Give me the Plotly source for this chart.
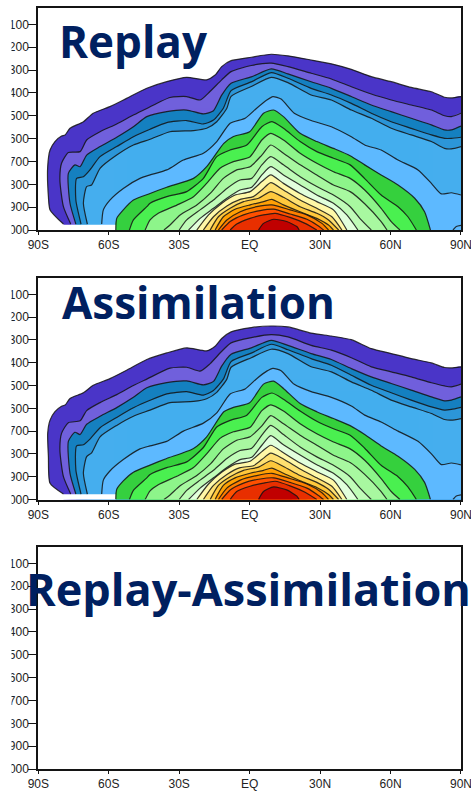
import plotly.graph_objects as go

# Latitudes of the contours' northern part, shared by the five outermost contours
NORTH_LAT = [-7.9, 0.7, 9.2, 16.3, 26.2, 34.8, 43.3, 51.8, 60.3, 68.8, 77.4, 83, 85.9, 90]

C1_LAT = [-79.3, -85, -85.7, -86, -85, -82.9, -80.1, -78.6, -76.5, -70.8, -66.6, -59.5, -52.4, -43.8, -35.3, -26.8, -18.3, -14.7, -11.9] + NORTH_LAT
C2_LAT = [-76.2, -79.3, -80.8, -80.1, -77.2, -72.2, -69.4, -63.7, -56.6, -49.5, -43.8, -33.9, -26.8, -21.1, -16.9, -11.9] + NORTH_LAT
C3_LAT = [-74, -76.5, -77.2, -74.4, -72.2, -69.4, -63.7, -56.6, -49.5, -43.8, -35.3, -26.8, -19.7, -15.4, -11.9] + NORTH_LAT
C4_LAT = [-71.8, -74, -73.7, -70.8, -68, -63.7, -56.6, -49.5, -42.4, -35.3, -26.8, -19.7, -15.4, -11.2] + NORTH_LAT
C5_LAT = [-69.1, -70.8, -69.4, -67.3, -63.7, -56.6, -49.5, -42.4, -33.9, -23.9, -18.3, -14, -9.7] + NORTH_LAT
C6_LAT = [-63, -62.3, -59.5, -53.8, -46.7, -42.4, -35.3, -28.2, -19.7, -14, -8.3, -1.9, 3, 7.3, 9.9, 13.4, 19, 26.2, 34.8, 43.3, 49, 56, 63.2, 71.7, 77.4, 81.6, 85.9, 90]
C7_LAT = [-57, -56.6, -53.8, -49.5, -42.4, -35.3, -23.9, -18.3, -11, -6.9, 0, 5.9, 10.2, 14.4, 21.5, 28.6, 35.7, 42.8, 49, 56, 63.2, 70.3, 74.5, 77]
C8_LAT = [-51.2, -49.5, -43.8, -42.4, -35.3, -26.8, -19.7, -14, -8.3, -1.2, 5.2, 9.5, 14.4, 21.5, 28.6, 35.7, 42.8, 49, 56, 63.2, 67.4, 71]
C9_LAT = [-44.5, -42.4, -38.9, -31, -23.9, -18.3, -12.6, -6.9, 0.2, 5.2, 9, 14.4, 21.5, 28.6, 35.7, 42.8, 49, 56, 60.3, 64]
C10_LAT = [-36.5, -33.9, -29.6, -22.5, -16.8, -11.2, -5.5, 0.2, 5.2, 9, 14.4, 21.5, 28.6, 35.7, 42.8, 49, 56, 58.5]
C11_LAT = [-30, -26.8, -21.1, -15.4, -9.7, -4.1, 0.9, 5.2, 9, 14.4, 21.5, 28.6, 35.7, 42.8, 47, 51.8]
C12_LAT = [-26, -21.1, -15.4, -9.7, -4.1, 0.9, 5.2, 9, 14.4, 21.5, 28.6, 35.7, 41.4, 46.1]
C13_LAT = [-22.5, -17.5, -11.8, -6.2, 0.2, 5.2, 9, 14.4, 21.5, 28.6, 35.7, 41.4]
C14_LAT = [-19.7, -15.4, -9.7, -4, 1.6, 5.2, 9, 14.4, 21.5, 28.6, 35, 39.3]
C15_LAT = [-16.8, -13.3, -8.3, -2.6, 3.8, 9, 14.4, 21.5, 28.6, 33.6, 37.9]
C16_LAT = [-14.7, -11.2, -6.2, 0.2, 5.9, 9.4, 14.4, 21.5, 28.6, 33.6, 35.7]
C17_LAT = [-13.3, -9.7, -4, 3, 9.4, 17.2, 24.4, 30.8, 33.6]
C18_LAT = [-11.9, -8.3, -2.6, 4.5, 10.2, 17.2, 24.4, 29.3, 31.5]
C19_LAT = [-8.3, -5.5, 0.2, 5.9, 10.9, 17.2, 23.6, 28.6]
C20_LAT = [3.8, 5.9, 10.2, 15.8, 20.1, 21.1]

# Replay: pressure (hPa) of each contour
R_C1 = [974, 912, 854, 723, 650, 613, 589, 584, 555, 526, 489, 460, 424, 380, 351, 332, 343, 322, 285, 259, 244, 231, 238, 256, 273, 297, 329, 351, 376, 395, 419, 422, 416]
R_C2 = [974, 898, 781, 708, 661, 657, 606, 570, 536, 497, 468, 420, 416, 431, 394, 343, 307, 280, 270, 285, 314, 339, 373, 405, 431, 453, 475, 500, 504, 489]
R_C3 = [974, 883, 752, 715, 723, 672, 635, 594, 548, 504, 482, 475, 492, 478, 410, 358, 330, 295, 317, 351, 380, 416, 453, 482, 511, 540, 562, 562, 545]
R_C4 = [974, 869, 774, 767, 737, 679, 635, 592, 559, 530, 521, 536, 519, 467, 390, 352, 311, 336, 380, 409, 446, 489, 526, 555, 584, 599, 599, 594]
R_C5 = [974, 883, 810, 803, 730, 672, 628, 603, 570, 565, 555, 526, 467, 415, 372, 332, 355, 409, 431, 475, 511, 555, 584, 613, 643, 645, 635]
R_C6 = [974, 912, 869, 818, 774, 759, 737, 694, 664, 613, 533, 511, 467, 431, 416, 427, 489, 521, 548, 592, 628, 650, 694, 737, 796, 842, 837, 847]
R_C7 = [1000, 949, 912, 869, 840, 813, 774, 723, 621, 591, 570, 489, 475, 504, 577, 613, 643, 675, 715, 759, 803, 861, 920, 1000]
R_C8 = [1000, 956, 898, 883, 854, 832, 774, 679, 650, 628, 548, 526, 555, 613, 657, 686, 715, 775, 847, 898, 942, 1000]
R_C9 = [1000, 956, 927, 891, 854, 796, 730, 701, 679, 606, 577, 606, 664, 708, 745, 774, 825, 905, 963, 1000]
R_C10 = [1000, 978, 934, 891, 840, 774, 737, 723, 672, 628, 664, 715, 759, 803, 832, 885, 963, 1000]
R_C11 = [1000, 956, 912, 869, 818, 781, 774, 715, 679, 715, 767, 810, 847, 898, 950, 1000]
R_C12 = [1000, 949, 905, 861, 825, 813, 759, 723, 759, 803, 847, 883, 934, 1000]
R_C13 = [1000, 934, 883, 847, 832, 788, 759, 796, 840, 876, 912, 1000]
R_C14 = [1000, 942, 895, 866, 854, 825, 793, 825, 869, 905, 942, 1000]
R_C15 = [1000, 942, 905, 876, 861, 832, 857, 898, 927, 956, 1000]
R_C16 = [1000, 942, 909, 890, 876, 866, 890, 920, 949, 978, 1000]
R_C17 = [1000, 956, 920, 898, 890, 912, 934, 971, 1000]
R_C18 = [1000, 963, 934, 915, 909, 930, 953, 982, 1000]
R_C19 = [1000, 974, 949, 934, 927, 945, 971, 1000]
R_C20 = [1000, 971, 953, 963, 985, 1000]

# Assimilation: pressure (hPa) of each contour
A_C1 = [976, 929, 812, 710, 652, 615, 591, 586, 557, 532, 499, 470, 433, 386, 357, 335, 348, 328, 294, 265, 246, 239, 243, 270, 283, 299, 338, 360, 382, 401, 421, 423, 418]
A_C2 = [976, 900, 783, 710, 663, 655, 610, 575, 540, 500, 472, 424, 420, 437, 405, 350, 313, 290, 277, 287, 324, 345, 378, 418, 440, 462, 488, 502, 506, 494]
A_C3 = [976, 885, 745, 705, 715, 670, 635, 597, 552, 510, 487, 480, 497, 482, 415, 363, 335, 302, 324, 360, 386, 426, 462, 491, 520, 550, 567, 564, 550]
A_C4 = [976, 870, 765, 760, 735, 685, 640, 598, 565, 537, 527, 542, 522, 472, 395, 358, 319, 343, 382, 411, 455, 499, 532, 564, 594, 608, 605, 596]
A_C5 = [976, 885, 812, 795, 725, 675, 635, 608, 575, 570, 558, 530, 472, 420, 378, 341, 360, 418, 440, 484, 521, 564, 594, 623, 649, 652, 645]
A_C6 = [976, 915, 875, 825, 778, 765, 745, 700, 665, 620, 537, 515, 470, 437, 425, 435, 495, 527, 552, 590, 630, 660, 700, 745, 800, 847, 840, 848]
A_C7 = [1000, 955, 918, 880, 849, 820, 776, 725, 615, 596, 576, 494, 481, 513, 579, 615, 645, 676, 715, 765, 810, 868, 925, 1000]
A_C8 = [1000, 960, 905, 890, 860, 835, 772, 682, 653, 630, 552, 533, 560, 612, 657, 690, 718, 775, 850, 900, 945, 1000]
A_C9 = [1000, 962, 935, 898, 860, 800, 732, 703, 683, 610, 585, 612, 668, 712, 748, 778, 828, 908, 965, 1000]
A_C10 = [1000, 980, 940, 895, 845, 778, 740, 725, 677, 632, 668, 718, 762, 806, 838, 890, 965, 1000]
A_C11 = [1000, 960, 915, 872, 820, 785, 775, 718, 675, 715, 770, 813, 850, 900, 950, 1000]
A_C12 = [1000, 950, 905, 860, 825, 815, 762, 720, 760, 805, 848, 885, 935, 1000]
A_C13 = [1000, 932, 880, 845, 832, 790, 762, 795, 840, 878, 915, 1000]
A_C14 = [1000, 938, 890, 860, 852, 825, 797, 822, 866, 905, 942, 1000]
A_C15 = [1000, 938, 900, 872, 858, 830, 855, 895, 925, 955, 1000]
A_C16 = [1000, 938, 905, 885, 872, 862, 885, 918, 947, 978, 1000]
A_C17 = [1000, 950, 915, 895, 885, 908, 932, 970, 1000]
A_C18 = [1000, 958, 928, 910, 905, 925, 950, 982, 1000]
A_C19 = [1000, 965, 942, 928, 920, 940, 968, 1000]
A_C20 = [1000, 965, 945, 958, 985, 1000]

BAND_COLORS = ["#4A35C8", "#7060DC", "#1580C0", "#2C96D8", "#45AEEE", "#5DB9FF", "#35D040", "#4CF050",
               "#8FF58A", "#A8F8A0", "#C0FCB8", "#E2FFDC", "#FFF8A8", "#FFE070", "#FFC840", "#FFA010",
               "#FF7F00", "#FF5000", "#E83000", "#C00000"]

ALL_LATS = [C1_LAT, C2_LAT, C3_LAT, C4_LAT, C5_LAT, C6_LAT, C7_LAT, C8_LAT, C9_LAT, C10_LAT,
            C11_LAT, C12_LAT, C13_LAT, C14_LAT, C15_LAT, C16_LAT, C17_LAT, C18_LAT, C19_LAT, C20_LAT]
REPLAY = [R_C1, R_C2, R_C3, R_C4, R_C5, R_C6, R_C7, R_C8, R_C9, R_C10,
          R_C11, R_C12, R_C13, R_C14, R_C15, R_C16, R_C17, R_C18, R_C19, R_C20]
ASSIM = [A_C1, A_C2, A_C3, A_C4, A_C5, A_C6, A_C7, A_C8, A_C9, A_C10,
         A_C11, A_C12, A_C13, A_C14, A_C15, A_C16, A_C17, A_C18, A_C19, A_C20]

# Data-free strip along the ground in the far south
GROUND_LAT = [-87, -57, -57, -87]
GROUND_P = [977, 977, 1002, 1002]
# Small closed contour touching the ground at the North Pole
POLE_LAT = [86.6, 88, 90]
POLE_P = [1000, 985, 980]

PANEL_NAMES = ["Replay", "Assimilation", "Replay-Assimilation"]
LAT_TICKS = [-90, -60, -30, 0, 30, 60, 90]
LAT_LABELS = ["90S", "60S", "30S", "EQ", "30N", "60N", "90N"]
P_TICKS = [100, 200, 300, 400, 500, 600, 700, 800, 900, 1000]
P_LABELS = ["100", "200", "300", "400", "500", "600", "700", "800", "900", "1000"]

W, H = 471, 793
LINE = "#141414"
TEXT = "#222222"
NAVY = "#002060"
CURVE = dict(shape="spline", smoothing=0.6)

fig = go.Figure()


def add_panel(contours, ax):
    for lat, p, color in zip(ALL_LATS, contours, BAND_COLORS):
        fig.add_trace(go.Scatter(x=lat + [lat[-1], lat[0]], y=p + [1000, 1000], mode="lines", fill="toself",
                                 fillcolor=color, line=dict(width=0, **CURVE), xaxis="x" + ax, yaxis="y" + ax,
                                 hoverinfo="skip", showlegend=False))
    fig.add_trace(go.Scatter(x=GROUND_LAT, y=GROUND_P, mode="lines", fill="toself", fillcolor="white",
                             line=dict(width=0), xaxis="x" + ax, yaxis="y" + ax,
                             hoverinfo="skip", showlegend=False))
    for lat, p in zip(ALL_LATS, contours):
        fig.add_trace(go.Scatter(x=lat, y=p, mode="lines", line=dict(color=LINE, width=1.2, **CURVE),
                                 opacity=0.85, xaxis="x" + ax, yaxis="y" + ax,
                                 hoverinfo="skip", showlegend=False))
    fig.add_trace(go.Scatter(x=POLE_LAT, y=POLE_P, mode="lines", line=dict(color=LINE, width=1.2, **CURVE),
                             opacity=0.85, xaxis="x" + ax, yaxis="y" + ax,
                             hoverinfo="skip", showlegend=False))


add_panel(REPLAY, "")
add_panel(ASSIM, "2")
fig.add_trace(go.Scatter(x=[], y=[], xaxis="x3", yaxis="y3", hoverinfo="skip", showlegend=False))

PANEL_TOP = [8, 278, 547]
PANEL_BOTTOM = [230, 499.5, 769]
TITLE_LAT = [-82, -80.7, -0.5]
TITLE_P = [313, 276, 352]
TITLE_ANCHOR = ["left", "left", "center"]
TITLE_SIZE = [44, 44, 45]

layout = dict(width=W, height=H, margin=dict(l=0, r=0, t=0, b=0, autoexpand=False), paper_bgcolor="white",
              plot_bgcolor="white", showlegend=False, font=dict(family="Liberation Sans", size=12, color=TEXT))
annotations = []
for i, (top, bottom) in enumerate(zip(PANEL_TOP, PANEL_BOTTOM)):
    suffix = "" if i == 0 else str(i + 1)
    layout["xaxis" + suffix] = dict(domain=[38.3 / W, 461 / W], range=[-90, 90.01], anchor="y" + suffix,
                                    tickvals=LAT_TICKS, ticktext=LAT_LABELS, ticks="outside", ticklen=3,
                                    tickwidth=1, tickcolor=LINE, showgrid=False, zeroline=False,
                                    showline=True, linecolor=LINE, linewidth=2, mirror=True,
                                    ticklabeloverflow="allow", tickangle=0, tickfont=dict(size=12, color=TEXT))
    layout["yaxis" + suffix] = dict(domain=[1 - bottom / H, 1 - top / H], range=[1000, 28.5], anchor="x" + suffix,
                                    tickvals=P_TICKS, ticktext=P_LABELS, ticks="outside", ticklen=8,
                                    tickwidth=1, tickcolor=LINE, showgrid=False, zeroline=False,
                                    showline=True, linecolor=LINE, linewidth=2, mirror=True,
                                    ticklabelstandoff=-3, tickfont=dict(size=12, color=TEXT))
    annotations.append(dict(text="<b>" + PANEL_NAMES[i] + "</b>", xref="x" + suffix, yref="y" + suffix,
                            showarrow=False, x=TITLE_LAT[i], y=TITLE_P[i], xanchor=TITLE_ANCHOR[i], yanchor="bottom",
                            font=dict(family="Open Sans", size=TITLE_SIZE[i], color=NAVY)))
layout["annotations"] = annotations
# The reference's left edge cuts the first digit of the pressure labels
layout["shapes"] = [dict(type="rect", xref="paper", yref="paper", x0=-0.01, x1=11.5 / W, y0=0, y1=1,
                         fillcolor="white", line=dict(width=0), layer="above")]
fig.update_layout(**layout)

fig.write_html("out.html", config=dict(displayModeBar=False),
               post_script="document.body.style.margin='0';")
